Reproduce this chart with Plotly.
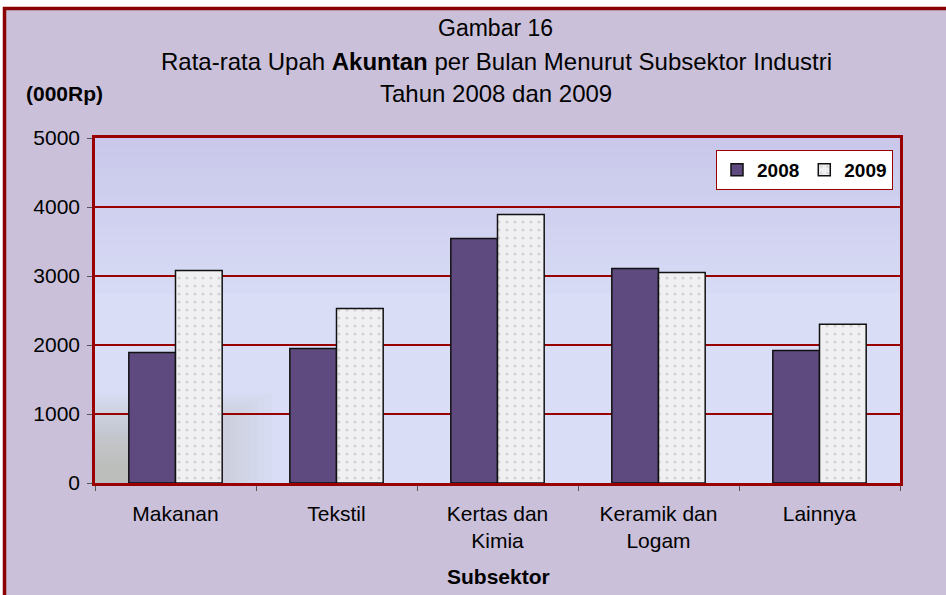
import plotly.graph_objects as go

categories = ["Makanan", "Tekstil", "Kertas dan<br>Kimia", "Keramik dan<br>Logam", "Lainnya"]
series_names = ["2008", "2009"]
values_2008 = [1890, 1950, 3545, 3110, 1920]
values_2009 = [3080, 2530, 3890, 3050, 2300]
y_ticks = [0, 1000, 2000, 3000, 4000, 5000]

W, H = 946, 595
L, R, T, B = 95, 46, 138, 112
PW, PH = W - L - R, H - T - B
FONT = "Liberation Sans, Arial, sans-serif"
RED = "#990000"


def py(ypix):
    return (H - B - ypix) / PH


def px(xpix):
    return (xpix - L) / PW


fig = go.Figure()
fig.add_trace(go.Bar(
    x=categories, y=values_2008, name=series_names[0],
    marker=dict(color="#5E4A7E", line=dict(color="#111111", width=1.5)),
))
fig.add_trace(go.Bar(
    x=categories, y=values_2009, name=series_names[1],
    marker=dict(color="#EEEEF1", line=dict(color="#111111", width=1.5),
                pattern=dict(shape=".", fgcolor="#B4B4B8", bgcolor="#F0F0F3", size=8, solidity=0.12)),
))

shapes = []
# white strips at top and left, then dark-red frame
shapes.append(dict(type="rect", xref="paper", yref="paper", x0=px(-5), x1=px(W + 5),
                   y0=py(7), y1=py(-5), fillcolor="white", line=dict(width=0), layer="below"))
shapes.append(dict(type="rect", xref="paper", yref="paper", x0=px(-5), x1=px(3),
                   y0=py(H + 5), y1=py(-5), fillcolor="white", line=dict(width=0), layer="below"))
shapes.append(dict(type="rect", xref="paper", yref="paper",
                   x0=px(4.5), x1=px(W + 30), y0=py(H + 30), y1=py(8.5),
                   line=dict(color="#8B0000", width=3.5), layer="below"))
# plot-area gradient: purple tint toward top
steps = 16
for i in range(steps):
    y0 = 0.55 + i * 0.45 / steps
    y1 = y0 + 0.45 / steps
    shapes.append(dict(type="rect", xref="x domain", yref="y domain", x0=0, x1=1, y0=y0, y1=y1,
                       fillcolor="#A99BD3", opacity=0.02 + 0.30 * (i + 1) / steps,
                       line=dict(width=0), layer="below"))
# soft greenish tint bottom-left
gsteps = 20
for i in range(gsteps):
    shapes.append(dict(type="rect", xref="x domain", yref="y domain",
                       x0=0, x1=0.22 - i * 0.009, y0=0, y1=0.26 - i * 0.011,
                       fillcolor="#9DB898", opacity=0.035,
                       line=dict(width=0), layer="below"))

fig.update_layout(
    width=W, height=H,
    margin=dict(l=L, r=R, t=T, b=B),
    paper_bgcolor="#CBC0DA",
    plot_bgcolor="#D9DDF6",
    barmode="group", bargap=0.42, bargroupgap=0,
    font=dict(family=FONT, size=21, color="black"),
    showlegend=True,
    legend=dict(orientation="h", x=px(893), y=py(150), xanchor="right", yanchor="top",
                bgcolor="white", bordercolor=RED, borderwidth=1,
                font=dict(family=FONT, size=19, color="black", weight="bold"),
                itemwidth=30, traceorder="normal", tracegroupgap=0),
    shapes=shapes,
    annotations=[
        dict(text="Gambar 16", x=px(495), y=py(28), font=dict(size=23)),
        dict(text="Rata-rata Upah <b>Akuntan</b> per Bulan Menurut Subsektor Industri",
             x=px(496), y=py(61), font=dict(size=24)),
        dict(text="Tahun 2008 dan 2009", x=px(496), y=py(94), font=dict(size=24)),
        dict(text="<b>(000Rp)</b>", x=px(64), y=py(94), font=dict(size=21)),
        dict(text="<b>Subsektor</b>", x=px(498), y=py(576), font=dict(size=21)),
    ],
)
fig.update_annotations(xref="paper", yref="paper", showarrow=False,
                       xanchor="center", yanchor="middle")

fig.update_xaxes(
    showline=True, linecolor=RED, linewidth=2.5, mirror=True,
    ticks="outside", tickson="boundaries", ticklen=5, tickcolor="#555555", tickwidth=1,
    tickfont=dict(family=FONT, size=21, color="black"),
    ticklabelstandoff=10,
    showgrid=False,
)
fig.update_yaxes(
    range=[0, 5000], tickvals=y_ticks, ticktext=[str(v) for v in y_ticks],
    showline=True, linecolor=RED, linewidth=2.5, mirror=True,
    ticks="outside", ticklen=5, tickcolor="#555555", tickwidth=1,
    gridcolor=RED, gridwidth=2, zeroline=False,
    tickfont=dict(family=FONT, size=21, color="black"),
    ticklabelstandoff=3,
)

fig.write_html("out.html", config={"displayModeBar": False},
               post_script="document.body.style.margin='0px';document.body.style.overflow='hidden';")
